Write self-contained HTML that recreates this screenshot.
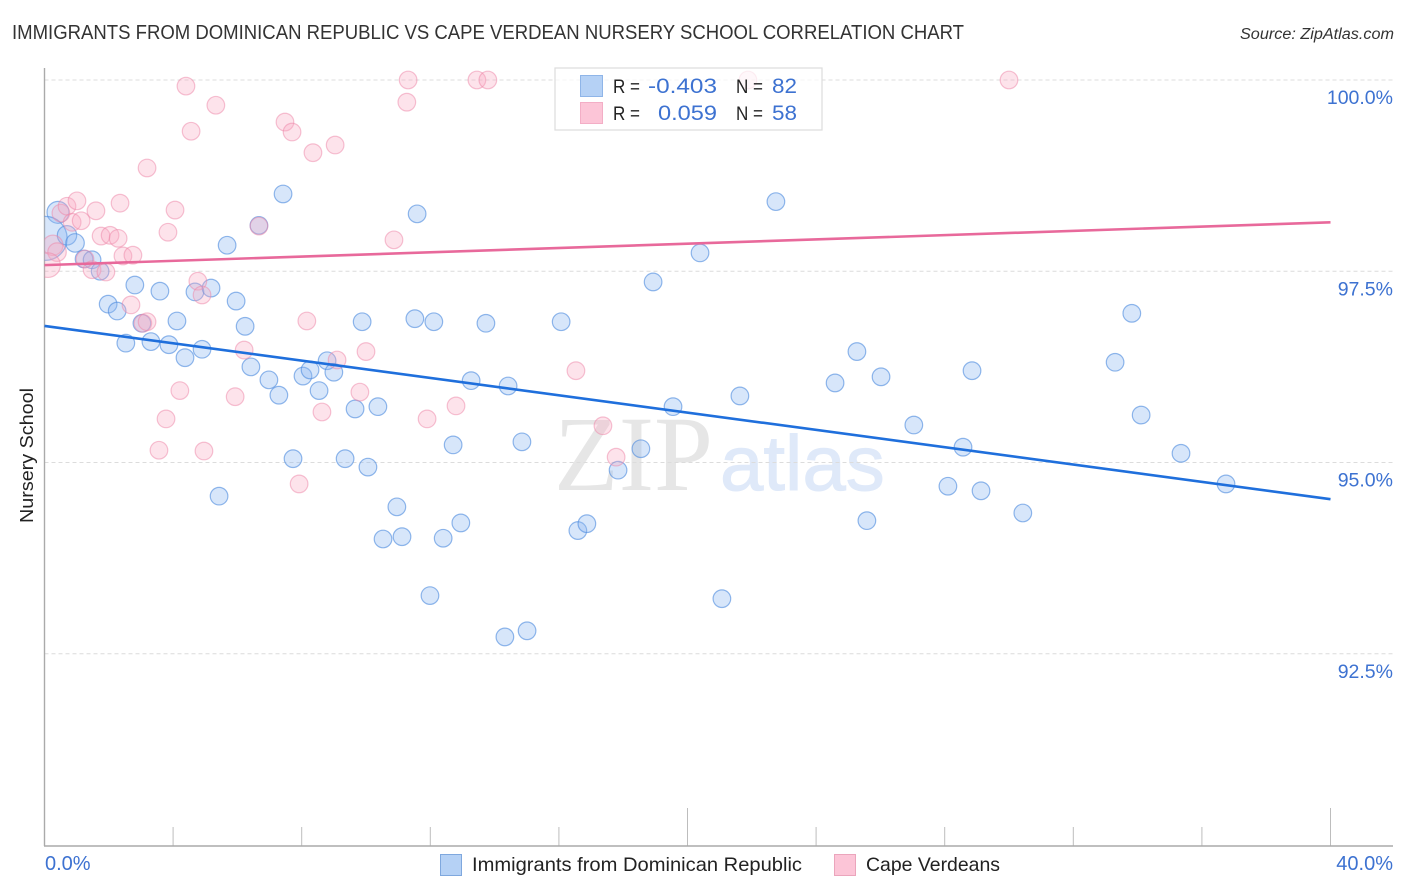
<!DOCTYPE html>
<html lang="en">
<head>
<meta charset="utf-8">
<title>Immigrants from Dominican Republic vs Cape Verdean Nursery School Correlation Chart</title>
<style>
html,body{margin:0;padding:0;background:#fff;}
body{width:1406px;height:892px;overflow:hidden;font-family:"Liberation Sans",Arial,sans-serif;}
svg{display:block;}
text{font-family:"Liberation Sans",Arial,sans-serif;}
#points{filter:blur(0.35px);}
</style>
</head>
<body>
<svg id="chart" xmlns="http://www.w3.org/2000/svg" width="1406" height="892" viewBox="0 0 1406 892">
  <defs>
    <clipPath id="plot-clip"><rect x="44.5" y="60" width="1349" height="786"></rect></clipPath>
  </defs>
  <text x="12" y="39" font-size="20" fill="#333" textLength="952" lengthAdjust="spacingAndGlyphs">IMMIGRANTS FROM DOMINICAN REPUBLIC VS CAPE VERDEAN NURSERY SCHOOL CORRELATION CHART</text>
  <text x="1394" y="39" font-size="15.5" font-style="italic" fill="#333" text-anchor="end" textLength="154" lengthAdjust="spacingAndGlyphs">Source: ZipAtlas.com</text>
  <g id="watermark">
    <text x="554" y="490" font-size="107" fill="#e6e6e6" style="font-family:'Liberation Serif',serif" textLength="159" lengthAdjust="spacingAndGlyphs">ZIP</text>
    <text x="720" y="490" font-size="78" fill="#dfe9f9" stroke="#dfe9f9" stroke-width="1" style="font-family:'Liberation Sans',sans-serif">atlas</text>
  </g>
  <g id="grid"></g>
  <g id="axes"></g>
  <g id="points" clip-path="url(#plot-clip)"></g>
  <g id="lines"></g>
  <g id="stat-legend">
    <rect x="555" y="68" width="267" height="62" fill="#fff" fill-opacity="0.72" stroke="#dcdcdc" stroke-width="1.2"></rect>
    <rect x="580.5" y="75.5" width="22" height="21" fill="#b5d1f5" stroke="#8fb5e8"></rect>
    <rect x="580.5" y="102.5" width="22" height="21" fill="#fcc5d7" stroke="#f3aec6"></rect>
    <text x="613" y="93" font-size="19" fill="#222" textLength="27" lengthAdjust="spacingAndGlyphs">R =</text>
    <text x="613" y="120" font-size="19" fill="#222" textLength="27" lengthAdjust="spacingAndGlyphs">R =</text>
    <text x="648" y="93" font-size="21.5" fill="#3d72d1" textLength="69" lengthAdjust="spacingAndGlyphs">-0.403</text>
    <text x="658" y="120" font-size="21.5" fill="#3d72d1" textLength="59" lengthAdjust="spacingAndGlyphs">0.059</text>
    <text x="736" y="93" font-size="19" fill="#222" textLength="27" lengthAdjust="spacingAndGlyphs">N =</text>
    <text x="736" y="120" font-size="19" fill="#222" textLength="27" lengthAdjust="spacingAndGlyphs">N =</text>
    <text x="772" y="93" font-size="21.5" fill="#3d72d1" textLength="25" lengthAdjust="spacingAndGlyphs">82</text>
    <text x="772" y="120" font-size="21.5" fill="#3d72d1" textLength="25" lengthAdjust="spacingAndGlyphs">58</text>
  </g>
  <text transform="translate(33,523) rotate(-90)" font-size="18.5" fill="#222" textLength="135" lengthAdjust="spacingAndGlyphs">Nursery School</text>
  <g id="series-legend">
    <rect x="440.5" y="854.5" width="21" height="21" fill="#b5d1f5" stroke="#7fa8de"></rect>
    <text x="472" y="871" font-size="19.5" fill="#222" textLength="330" lengthAdjust="spacingAndGlyphs">Immigrants from Dominican Republic</text>
    <rect x="834.5" y="854.5" width="21" height="21" fill="#fcc5d7" stroke="#eba5bc"></rect>
    <text x="866" y="871" font-size="19.5" fill="#222" textLength="134" lengthAdjust="spacingAndGlyphs">Cape Verdeans</text>
  </g>
</svg>
<script>
const blueX = [0.42,0.02,0.70,0.95,1.23,1.48,1.73,1.98,2.26,2.81,2.53,3.03,3.31,3.59,3.87,4.12,4.37,4.68,4.90,5.18,5.43,5.68,5.96,6.24,6.42,6.98,6.67,7.42,7.29,7.73,8.04,8.26,8.54,8.79,9.00,9.35,9.66,9.88,10.06,10.37,10.53,10.96,11.12,11.59,11.52,12.11,11.99,12.40,12.71,12.95,13.27,13.73,14.32,14.42,14.85,15.01,16.07,16.59,16.87,17.84,18.55,18.93,19.55,20.39,21.07,21.63,22.75,24.59,25.27,25.58,26.02,27.04,28.10,28.57,28.85,29.13,30.43,33.30,33.82,34.11,35.35,36.75];
const blueY = [98.27,97.93,97.97,97.87,97.66,97.65,97.50,97.07,96.98,97.32,96.56,96.82,96.58,97.24,96.54,96.85,96.37,97.23,96.48,97.28,94.56,97.84,97.11,96.78,96.25,96.08,98.10,98.51,95.88,95.05,96.13,96.21,95.94,96.33,96.18,95.05,95.70,96.84,94.94,95.73,94.00,94.42,94.03,98.25,96.88,96.84,93.26,94.01,95.23,94.21,96.07,96.82,92.72,96.00,95.27,92.80,96.84,94.11,94.20,94.90,95.18,97.36,95.73,97.74,93.22,95.87,98.41,96.04,96.45,94.24,96.12,95.49,94.69,95.20,96.20,94.63,94.34,96.31,96.95,95.62,95.12,94.72];
const blueWeight = [1.25,2.5,1.1,1.05,1,1,1,1,1,1,1,1,1,1,1,1,1,1,1,1,1,1,1,1,1,1,1,1,1,1,1,1,1,1,1,1,1,1,1,1,1,1,1,1,1,1,1,1,1,1,1,1,1,1,1,1,1,1,1,1,1,1,1,1,1,1,1,1,1,1,1,1,1,1,1,1,1,1,1,1,1,1];
const pinkX = [0.26,0.39,0.11,0.51,0.70,1.01,0.86,1.14,1.60,1.76,2.04,2.29,2.35,1.26,1.48,1.91,2.44,2.75,2.69,3.06,3.19,3.19,3.56,3.78,3.84,4.06,4.21,4.40,4.56,4.77,4.90,4.96,5.33,5.93,6.21,6.67,7.48,7.70,7.92,8.35,8.16,8.63,9.04,9.10,9.81,10.00,10.87,11.27,11.31,11.90,12.80,13.45,13.79,16.53,17.37,17.78,21.88,30.00];
const pinkY = [97.84,97.75,97.58,98.26,98.35,98.42,98.14,98.16,98.29,97.96,97.97,97.93,98.39,97.66,97.52,97.49,97.70,97.71,97.06,96.82,96.84,98.85,95.16,95.57,98.01,98.30,95.94,99.92,99.33,97.37,97.19,95.15,99.67,95.86,96.47,98.09,99.45,99.32,94.72,99.05,96.85,95.66,99.15,96.34,95.92,96.45,97.91,99.71,100,95.57,95.74,100,100,96.20,95.48,95.07,100,100];
const pinkWeight = [1.15,1.05,1.4];
const blueTrend = [96.785,94.52];
const pinkTrend = [97.58,98.14];
const trendDomain = [0,40];
const yTicks = [100,97.5,95,92.5];
const yTickLabels = ["100.0%","97.5%","95.0%","92.5%"];
const xTicks = [0,4,8,12,16,20,24,28,32,36,40];
const xMajorTicks = [0,20,40];
const xEdgeLabels = ["0.0%","40.0%"];

const NS = "http://www.w3.org/2000/svg";
function xScale(v){ return 44.5 + v * (1286 / 40); }
function yScale(v){ return 80 + (100 - v) * 76.5; }
function make(tag, attrs, parent){
  const el = document.createElementNS(NS, tag);
  for (const k in attrs) el.setAttribute(k, attrs[k]);
  parent.appendChild(el);
  return el;
}

const grid = document.getElementById('grid');
yTicks.forEach(function(t, i){
  const gl = make('line', {x1:44.5, x2:1393, y1:yScale(t), y2:yScale(t), stroke:'#dcdcdc', 'stroke-width':1, 'stroke-dasharray':'4 3'}, grid);
  
  
  const lb = make('text', {x:1393, y:yScale(t) + 24, 'font-size':19.5, fill:'#3d72d1', 'text-anchor':'end'}, grid);
  lb.textContent = yTickLabels[i];
  
  
});

const axes = document.getElementById('axes');
xTicks.forEach(function(t){
  const top = xMajorTicks.indexOf(t) >= 0 ? 808 : 827;
  const tk = make('line', {x1:xScale(t), x2:xScale(t), y1:top, y2:846, stroke:'#bdbdbd', 'stroke-width':1}, axes);
  
  
});
const yAxis = make('line', {x1:44.5, x2:44.5, y1:68, y2:846, stroke:'#aaaaaa', 'stroke-width':1.4}, axes);


const xAxis = make('line', {x1:44, x2:1393, y1:846, y2:846, stroke:'#aaaaaa', 'stroke-width':1.4}, axes);


const xLabelLeft = make('text', {x:45, y:870, 'font-size':20, fill:'#3d72d1'}, axes);
xLabelLeft.textContent = xEdgeLabels[0];


const xLabelRight = make('text', {x:1393, y:870, 'font-size':20, fill:'#3d72d1', 'text-anchor':'end'}, axes);
xLabelRight.textContent = xEdgeLabels[1];



const pts = document.getElementById('points');
blueX.forEach(function(v, i){
  const c = make('circle', {cx:xScale(v), cy:yScale(blueY[i]), r:8.8 * (blueWeight[i] || 1), fill:'#8ab6f0', 'fill-opacity':0.34, stroke:'#4f8ddf', 'stroke-opacity':0.62, 'stroke-width':1.2}, pts);
  
  
});
pinkX.forEach(function(v, i){
  const c = make('circle', {cx:xScale(v), cy:yScale(pinkY[i]), r:8.8 * (pinkWeight[i] || 1), fill:'#f9a8c2', 'fill-opacity':0.32, stroke:'#ee86a8', 'stroke-opacity':0.5, 'stroke-width':1.2}, pts);
  
  
});

const lines = document.getElementById('lines');
const blueLine = make('line', {x1:xScale(trendDomain[0]), x2:xScale(trendDomain[1]), y1:yScale(blueTrend[0]), y2:yScale(blueTrend[1]), stroke:'#1f6fdc', 'stroke-width':2.6}, lines);


const pinkLine = make('line', {x1:xScale(trendDomain[0]), x2:xScale(trendDomain[1]), y1:yScale(pinkTrend[0]), y2:yScale(pinkTrend[1]), stroke:'#e8699b', 'stroke-width':2.6}, lines);


</script>
</body>
</html>
